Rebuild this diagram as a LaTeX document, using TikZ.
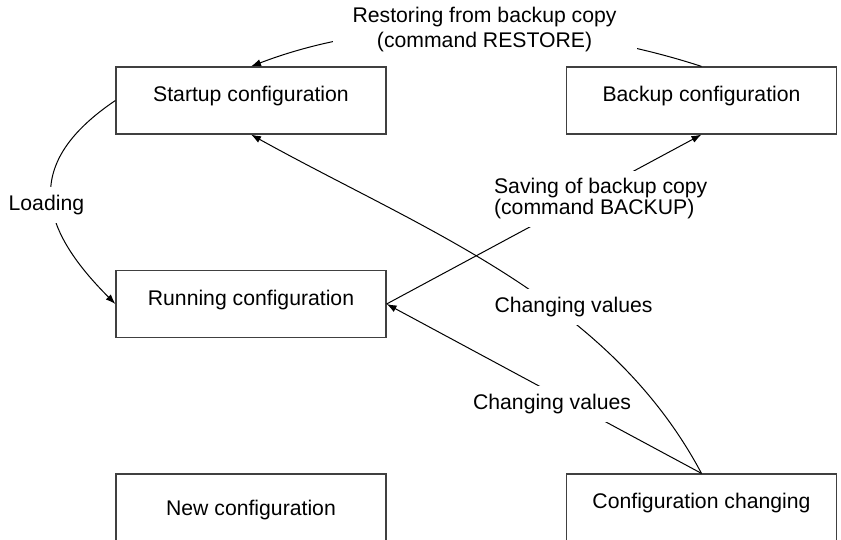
\documentclass[tikz,border=0pt]{standalone}
\usepackage{fontspec}
\setmainfont{Liberation Sans}
\usepackage{tikz}
\usetikzlibrary{arrows.meta}

\begin{document}
\begin{tikzpicture}[x=0.5pt,y=-0.5pt,line width=0.5pt,
	every node/.style={font=\fontsize{10.6pt}{12.5pt}\selectfont},
	box/.style={draw=black!75, line width=0.6pt, minimum width=135pt, minimum height=33.5pt, inner sep=0pt, text height=8pt, text depth=7pt},
	lbl/.style={fill=white, inner sep=4pt},
	>={Latex[length=5pt,width=3.6pt]}]

	\useasboundingbox (0,0) rectangle (841,540);

	\node (S) [box] at (251,100.5) {Startup configuration};
	\node (B) [box] at (701.5,100.5) {Backup configuration};
	\node (R) [box] at (251,304) {Running configuration};
	\node (N) [box, text height=10pt, text depth=2pt] at (251,507.5) {New configuration};
	\node (C) [box] at (701.5,507.5) {Configuration changing};

	\draw [->] (B.north) to[out=162, in=21, looseness=0.85] node[lbl, align=center, pos=0.48, inner xsep=10pt] {Restoring from backup copy\\(command RESTORE)} (S.north);
	\draw [->] (S.west) to[out=214, in=135, looseness=1.4] node[lbl, xshift=-2.5pt, yshift=-4.5pt] {Loading} (R.west);
	\draw [->] (R.east) -- node[lbl, align=left, pos=0.68, yshift=-5pt, font=\fontsize{10.6pt}{10.3pt}\selectfont] {Saving of backup copy\\(command BACKUP)} (B.south);
	\draw [->] (C.north) -- node[lbl, xshift=4pt, yshift=-7.5pt] {Changing values} (R.east);
	\draw [->] (C.north) to[out=118, in=-29, looseness=0.9] node[lbl, pos=0.38, xshift=6pt, yshift=3pt] {Changing values} (S.south);

\end{tikzpicture}
\end{document}
